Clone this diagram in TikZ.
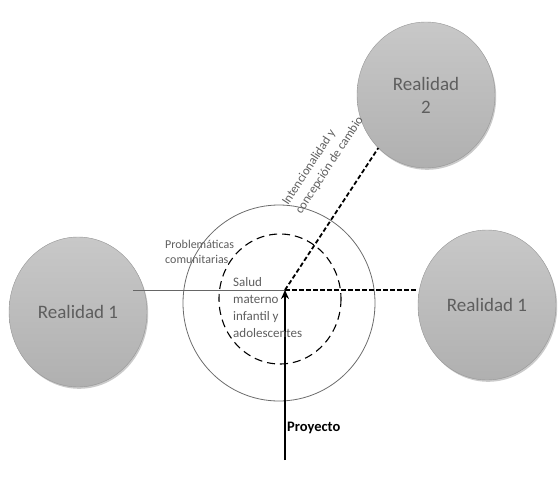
\documentclass[tikz,border=0pt]{standalone}
\usepackage{fontspec}
\setmainfont{Carlito}
\usetikzlibrary{arrows.meta,shapes.geometric,shadows}
\definecolor{txtgray}{HTML}{5E5E5E}
\definecolor{circtop}{HTML}{C8C8C8}
\definecolor{circbot}{HTML}{B0B0B0}
\tikzset{
  realidad/.style={ellipse, inner sep=0pt, top color=circtop, bottom color=circbot,
    draw=circbot!85!black, line width=0.4pt, text=txtgray, align=center,
    font=\fontsize{19}{23}\selectfont,
    drop shadow={shadow xshift=1.2pt, shadow yshift=-1.8pt, opacity=0.35, fill=black!60}},
  dashline/.style={line width=1.8pt, dash pattern=on 4.5pt off 2.5pt},
  smalltxt/.style={text=txtgray, align=left, inner sep=0pt},
}
\begin{document}
\begin{tikzpicture}[x=1pt,y=-1pt]
\useasboundingbox (0,0) rectangle (558,493);
% outer and inner circles
\draw[gray!85!black, line width=0.8pt] (279,303) circle[x radius=96, y radius=98];
\draw[line width=1.1pt, dash pattern=on 8pt off 5pt] (280,299) circle[x radius=61, y radius=65];
% realidad nodes
\node[realidad, minimum width=138pt, minimum height=150pt] (r1l) at (78,312) {Realidad 1};
\node[realidad, minimum width=138pt, minimum height=150pt] (r1r) at (487,305) {Realidad 1};
\node[realidad, minimum width=138pt, minimum height=146pt] (r2) at (426,95) {Realidad\\2};
% centre point
\coordinate (c) at (285,290);
\coordinate (lstart) at (133,290);
\coordinate (pbase) at (285,460);
% connectors
\draw[gray!80!black, line width=0.6pt] (lstart) -- (c);
\draw[dashline] (c) -- (r1r.west |- c);
\draw[dashline] (c) -- (r2.228);
\draw[line width=2pt, -{Stealth[length=9pt,width=8pt]}] (pbase) -- (c);
% texts
\node[smalltxt, anchor=west, font=\fontsize{12}{15}\selectfont] (prob) at (165,251.5) {Problemáticas\\comunitarias};
\node[smalltxt, anchor=west, font=\fontsize{13}{17}\selectfont] (salud) at (233,307.5) {Salud\\materno\\infantil y\\adolescentes};
\node[smalltxt, rotate=56.8, font=\fontsize{12.5}{16}\selectfont] (inten) at (323,161) {Intencionalidad y\\concepción de cambio};
\node[anchor=west, inner sep=0pt, font=\fontsize{14.5}{17}\selectfont\bfseries] (proy) at (287,428) {Proyecto};
\end{tikzpicture}
\end{document}
